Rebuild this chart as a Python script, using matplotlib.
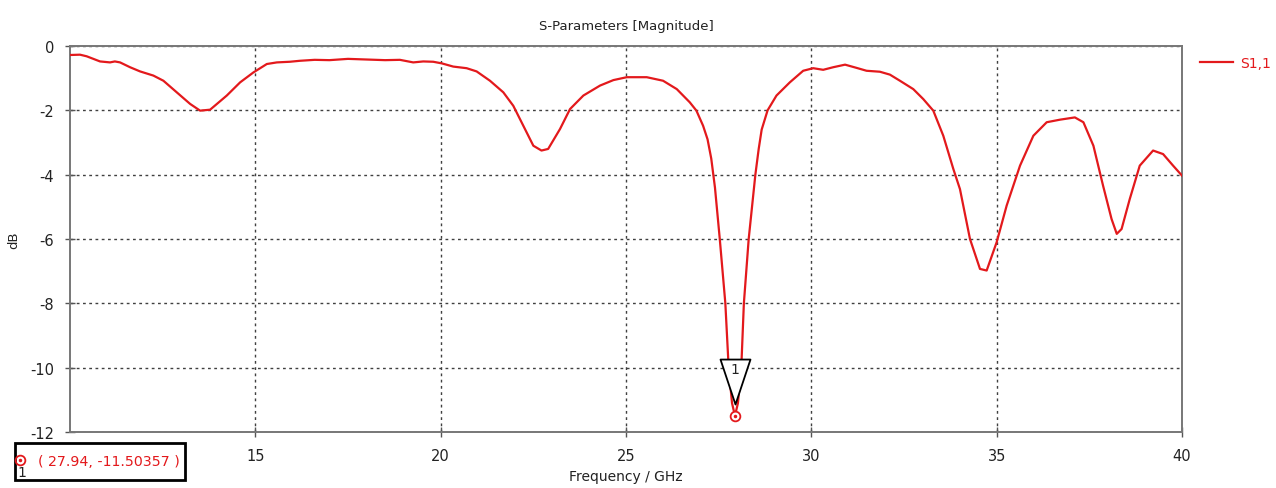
import matplotlib
matplotlib.use("Agg")
import matplotlib.pyplot as plt
from matplotlib.path import Path
from matplotlib.patches import Rectangle
from matplotlib.lines import Line2D

# ---- data ----
freq_ghz = [10.00, 10.27, 10.45, 10.81, 11.08, 11.21, 11.35, 11.62, 11.89, 12.25,
            12.52, 12.88, 13.24, 13.51, 13.78, 14.23, 14.59, 14.95, 15.31, 15.58,
            15.93, 16.20, 16.60, 17.00, 17.50, 18.00, 18.50, 18.90, 19.26, 19.53,
            19.80, 20.03, 20.34, 20.70, 20.97, 21.33, 21.69, 21.96, 22.23, 22.50,
            22.72, 22.90, 23.22, 23.49, 23.85, 24.30, 24.66, 25.02, 25.56, 26.00,
            26.37, 26.72, 26.90, 27.08, 27.20, 27.30, 27.40, 27.53, 27.68, 27.77, 27.86,
            27.94, 28.02, 28.11, 28.18, 28.31, 28.49, 28.58, 28.66, 28.82, 29.06,
            29.42, 29.78, 30.05, 30.32, 30.59, 30.91, 31.22, 31.49, 31.85, 32.12,
            32.39, 32.75, 33.02, 33.29, 33.56, 33.83, 34.01, 34.28, 34.55, 34.73,
            35.00, 35.27, 35.63, 35.99, 36.35, 36.71, 37.11, 37.34, 37.61, 37.87,
            38.10, 38.24, 38.37, 38.59, 38.86, 39.22, 39.49, 39.76, 40.00]
s11_db = [-0.28, -0.27, -0.32, -0.48, -0.51, -0.48, -0.51, -0.66, -0.79, -0.92,
          -1.08, -1.44, -1.80, -2.01, -1.98, -1.54, -1.13, -0.82, -0.56, -0.51,
          -0.49, -0.46, -0.43, -0.44, -0.40, -0.42, -0.44, -0.43, -0.51, -0.48,
          -0.49, -0.54, -0.64, -0.69, -0.79, -1.08, -1.44, -1.86, -2.48, -3.10,
          -3.25, -3.20, -2.58, -1.96, -1.54, -1.23, -1.06, -0.97, -0.97, -1.08,
          -1.34, -1.75, -2.01, -2.48, -2.90, -3.50, -4.40, -6.00, -8.00, -10.00, -11.10,
          -11.50, -11.10, -10.00, -8.00, -6.00, -4.00, -3.20, -2.60, -2.00, -1.54,
          -1.13, -0.77, -0.69, -0.74, -0.66, -0.58, -0.68, -0.77, -0.80, -0.89,
          -1.08, -1.34, -1.65, -2.01, -2.79, -3.82, -4.45, -6.00, -6.93, -6.98,
          -6.10, -4.96, -3.72, -2.79, -2.37, -2.29, -2.22, -2.37, -3.10, -4.34,
          -5.38, -5.84, -5.69, -4.76, -3.72, -3.25, -3.36, -3.72, -4.03]
series_label = "S1,1"
marker_freq = 27.94
marker_db = -11.50357
marker_id = "1"
x_ticks = [15, 20, 25, 30, 35, 40]
y_ticks = [0, -2, -4, -6, -8, -10, -12]

RED = "#e3191c"
plt.rcParams['font.family'] = ["DejaVu Sans"]
plt.rcParams['axes.unicode_minus'] = False

fig = plt.figure(figsize=(12.76, 4.89), dpi=100)
W, H = 1276, 489
ax = fig.add_axes([70 / W, 1 - 433 / H, (1182 - 70) / W, (433 - 47) / H])

line, = ax.plot(freq_ghz, s11_db, color=RED, lw=1.6, label=series_label, zorder=3)

ax.set_xlim(10, 40)
ax.set_ylim(-12, 0)
ax.set_xticks(x_ticks)
ax.set_yticks(y_ticks)
ax.grid(True, linestyle=(0, (2, 2.5)), color="#404040", lw=1.0)
ax.tick_params(direction="inout", length=7, width=1, color="#555555",
               labelsize=10.5, labelcolor="#222222", pad=8)
for s in ax.spines.values():
    s.set_color("#777777")
    s.set_linewidth(1.4)

ax.set_title("S-Parameters [Magnitude]", fontsize=9.5, color="#222222", pad=12)
ax.set_xlabel("Frequency / GHz", fontsize=10, color="#222222", labelpad=4)
ax.set_ylabel("dB", fontsize=9.5, color="#222222")
ax.yaxis.set_label_coords((20 - 70) / 1112, 0.5)

# legend outside right
fig.legend(handles=[line], loc="upper left", bbox_to_anchor=(1194 / W, 1 - 51 / H),
           frameon=False, handlelength=2.4, handletextpad=0.5, fontsize=10,
           labelcolor=RED, borderaxespad=0.0)

# marker: open circle with dot
ax.plot([marker_freq], [marker_db], marker="o", ms=7, mfc="white", mec=RED,
        mew=1.3, zorder=5, clip_on=False)
ax.plot([marker_freq], [marker_db], marker=".", ms=3, color=RED, zorder=6,
        clip_on=False)
# inverted triangle flag
tri = Path([(0, 12), (-15, 57), (15, 57), (0, 12)],
           [Path.MOVETO, Path.LINETO, Path.LINETO, Path.CLOSEPOLY])
ax.plot([marker_freq], [marker_db], marker=tri, ms=82, mfc="white", mec="black",
        mew=1.3, zorder=4, clip_on=False)
ax.annotate(marker_id, (marker_freq, marker_db), xytext=(0, 34),
            textcoords="offset points", ha="center", va="center",
            fontsize=10, color="#222222", zorder=7)

# readout box bottom-left
fig.patches.append(Rectangle((15 / W, 1 - 481 / H), 170 / W, 37 / H,
                             transform=fig.transFigure, fill=False,
                             edgecolor="black", lw=2))
fig.add_artist(Line2D([20 / W], [1 - 461 / H], marker="o", ms=7, mfc="none",
                      mec=RED, mew=1.3, transform=fig.transFigure))
fig.add_artist(Line2D([20 / W], [1 - 461 / H], marker=".", ms=3, color=RED,
                      transform=fig.transFigure))
fig.text(22 / W, 1 - 473 / H, marker_id, fontsize=10, color="#222222",
         ha="center", va="center")
fig.text(38 / W, 1 - 462 / H, f"( {marker_freq}, {marker_db} )", fontsize=10.2,
         color=RED, ha="left", va="center")

fig.savefig("out.png", dpi=100)
